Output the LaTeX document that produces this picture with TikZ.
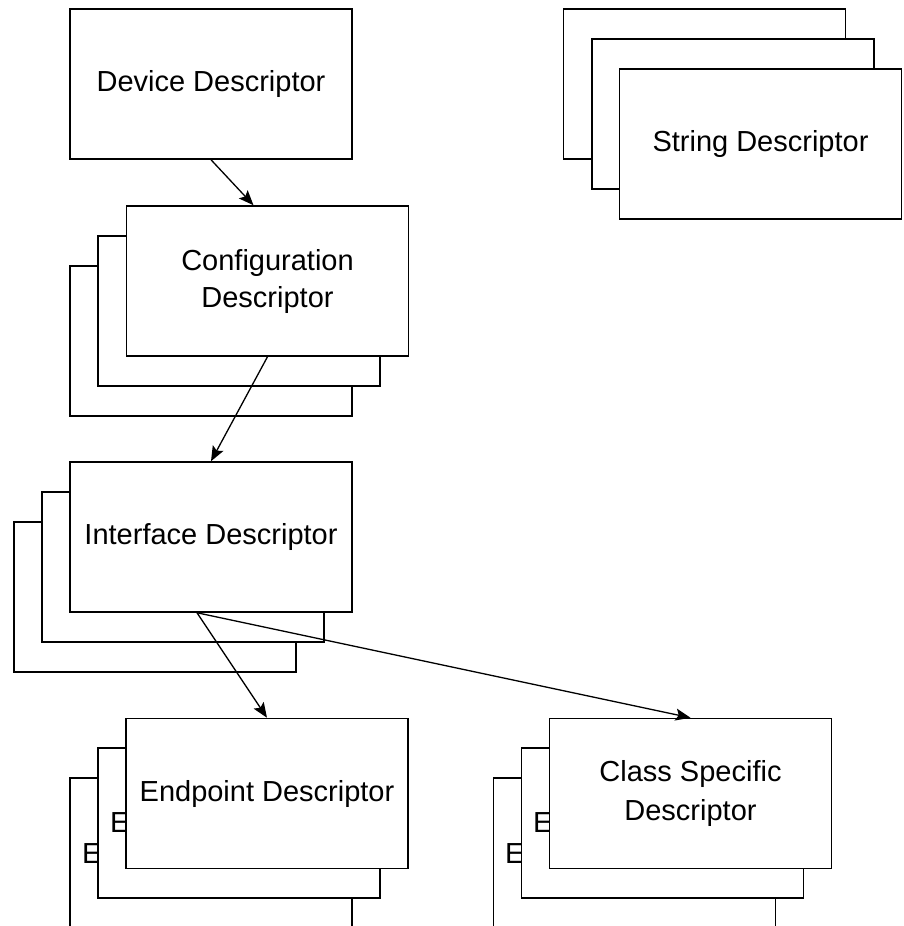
\documentclass[tikz,border=0pt]{standalone}
\usepackage{fontspec}
\setmainfont{Liberation Sans}
\usetikzlibrary{arrows.meta}
\begin{document}
\begin{tikzpicture}[x=1pt,y=-1pt,
  box/.style={draw, line width=1.5pt, fill=white, minimum width=282pt, minimum height=150pt,
    inner sep=0pt, align=center, font=\fontsize{29}{37}\selectfont},
  peek/.style={anchor=base west, inner sep=0pt, font=\fontsize{29}{37}\selectfont},
  conn/.style={line width=1.3pt, -{Stealth[length=15pt,width=12pt,inset=3pt]}}]
\clip (0,0) rectangle (903,926);
% Device
\node[box] (dev) at (211,84) {Device Descriptor};
% Configuration stack
\node[box] (conf3) at (211,341) {};
\node[box] (conf2) at (239,311) {};
\node[box] (conf) at (267.5,281) {Configuration\\Descriptor};
% Interface stack
\node[box] (if3) at (155,597) {};
\node[box] (if2) at (183,567) {};
\node[box] (if) at (211,537) {Interface Descriptor};
% Endpoint stack
\node[box] (ep3) at (211,853) {};
\node[peek] (ep3t) at (82,863) {E};
\node[box] (ep2) at (239,823) {};
\node[peek] (ep2t) at (110,832) {E};
\node[box] (ep) at (267,793.5) {Endpoint Descriptor};
% Class specific stack
\node[box] (cs3) at (634.5,853) {};
\node[peek] (cs3t) at (505,863) {E};
\node[box] (cs2) at (662.5,823) {};
\node[peek] (cs2t) at (533,832) {E};
\node[box, font=\fontsize{29}{39}\selectfont] (cs) at (690.5,793.5) {Class Specific\\Descriptor};
% String stack
\node[box] (str3) at (704.5,84) {};
\node[box] (str2) at (733,114) {};
\node[box] (str) at (760.5,144) {String Descriptor};
% connectors
\draw[conn] (dev.south) -- ([xshift=-14pt]conf.north);
\draw[conn] (conf.south) -- (if.north);
\coordinate (ifout) at ([xshift=-14pt]if.south);
\draw[conn] (ifout) -- (ep.north);
\draw[conn] (ifout) -- (cs.north);
\end{tikzpicture}
\end{document}
